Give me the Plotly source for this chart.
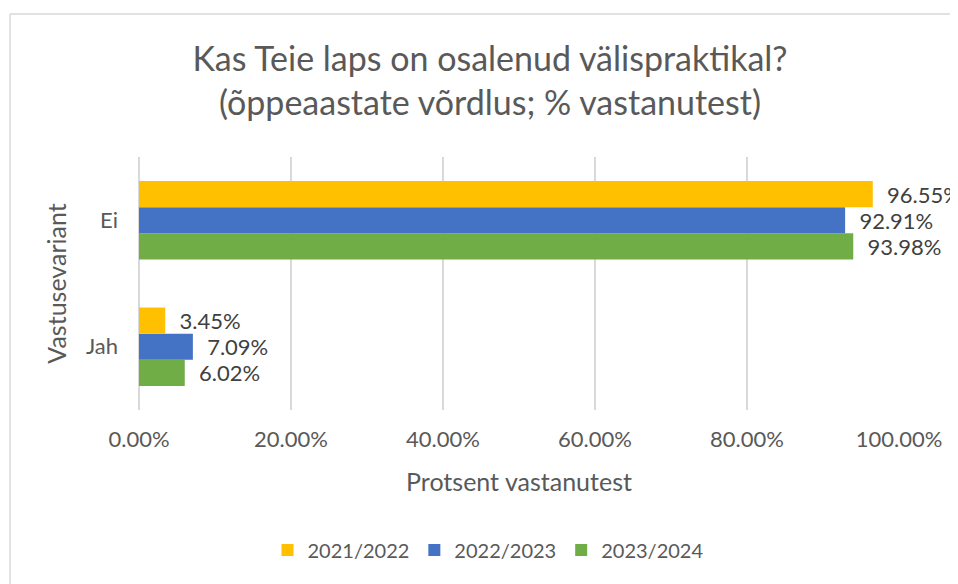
import plotly.graph_objects as go

categories = ["Jah", "Ei"]
series_names = ["2021/2022", "2022/2023", "2023/2024"]
values_2021 = [0.0345, 0.9655]
values_2022 = [0.0709, 0.9291]
values_2023 = [0.0602, 0.9398]
colors = {"2021/2022": "#FFC000", "2022/2023": "#4472C4", "2023/2024": "#70AD47"}
x_ticks = [0, 0.2, 0.4, 0.6, 0.8, 1.0]

series_vals = {"2021/2022": values_2021, "2022/2023": values_2022, "2023/2024": values_2023}

FONT = "Lato"
OFF = 8  # page body margin
W, H = 958 - OFF, 584 - OFF
L, R, T, B = 139 - OFF, 59, 157 - OFF, 174
pw, ph = W - L - R, H - T - B

fig = go.Figure()
# add bottom-most bar first so 2021/2022 sits on top within each group
for rank, name in reversed(list(enumerate(series_names))):
    vals = series_vals[name]
    fig.add_trace(go.Bar(
        y=categories, x=vals, orientation="h", name=name,
        marker=dict(color=colors[name], line=dict(width=0)),
        text=["\u00a0\u00a0" + f"{v*100:.2f}%" for v in vals],
        textposition="outside", cliponaxis=False, constraintext="none",
        textfont=dict(family=FONT, size=22, color="#404040"),
        legendrank=rank + 1, hoverinfo="skip",
    ))

border = dict(line=dict(color="#D9D9D9", width=1.5), layer="below")

fig.update_layout(
    width=W, height=H,
    margin=dict(l=L, r=R, t=T, b=B, autoexpand=False),
    paper_bgcolor="white", plot_bgcolor="white",
    barmode="group", bargap=0.38, bargroupgap=0,
    font=dict(family=FONT, color="#595959"),
    title=dict(
        text="Kas Teie laps on osalenud välispraktikal?<br>(õppeaastate võrdlus; % vastanutest)",
        font=dict(family=FONT, size=34, color="#595959"),
        x=482 / W, xanchor="center", xref="container",
        y=1 - 63 / H, yanchor="top", yref="container",
    ),
    xaxis=dict(
        range=[0, 1], tickvals=x_ticks, tickformat=".2%",
        showgrid=True, gridcolor="#D9D9D9", gridwidth=1.5,
        zeroline=True, zerolinecolor="#D9D9D9", zerolinewidth=1.5,
        showline=False, ticks="",
        tickfont=dict(family=FONT, size=22, color="#595959"),
        ticklabelstandoff=14,
        title=dict(text="Protsent vastanutest", font=dict(family=FONT, size=25, color="#595959"), standoff=22),
    ),
    yaxis=dict(
        showgrid=False, zeroline=False, showline=False, ticks="",
        tickfont=dict(family=FONT, size=22, color="#595959"),
        ticklabelstandoff=20,
        title=dict(text="Vastusevariant", font=dict(family=FONT, size=25, color="#595959"), standoff=12),
    ),
    legend=dict(
        orientation="h", xref="container", yref="container",
        x=480 / W, xanchor="center", y=1 - 542 / H, yanchor="middle",
        font=dict(family=FONT, size=20, color="#595959"),
        traceorder="normal", itemwidth=30,
    ),
    shapes=[
        dict(type="line", xref="paper", yref="paper",
             x0=(2 - L) / pw, x1=(W - L) / pw, y0=1 + (T - 6) / ph, y1=1 + (T - 6) / ph, **border),
        dict(type="line", xref="paper", yref="paper",
             x0=(2 - L) / pw, x1=(2 - L) / pw, y0=1 + (T - 6) / ph, y1=-(H - T - ph) / ph, **border),
    ],
)

fig.write_html("out.html")
